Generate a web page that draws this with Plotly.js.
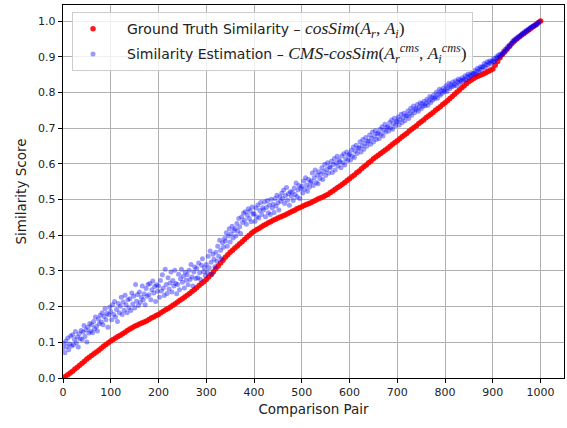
<!DOCTYPE html>
<html>
<head>
<meta charset="utf-8">
<script src="https://cdn.plot.ly/plotly-3.0.1.min.js"></script>
<style>html,body{margin:0;padding:0;background:#fff;}#chart{width:567px;height:428px;}</style>
</head>
<body>
<div id="chart"></div>
<script>
// Ground truth similarity, read every 5 comparison pairs (0..1000)
const truthStep = 5;
const truthSim = [
0.000,0.004,0.009,0.014,0.019,0.025,0.030,0.036,0.041,0.047,
0.053,0.058,0.063,0.068,0.073,0.078,0.083,0.089,0.094,0.099,
0.104,0.108,0.112,0.116,0.120,0.124,0.128,0.133,0.137,0.141,
0.145,0.148,0.151,0.154,0.157,0.160,0.164,0.168,0.171,0.175,
0.178,0.183,0.187,0.191,0.195,0.199,0.204,0.208,0.213,0.218,
0.222,0.227,0.232,0.237,0.242,0.247,0.253,0.259,0.265,0.270,
0.276,0.283,0.290,0.298,0.306,0.314,0.322,0.330,0.338,0.345,
0.352,0.358,0.364,0.370,0.376,0.382,0.388,0.394,0.400,0.406,
0.411,0.415,0.419,0.423,0.427,0.431,0.435,0.438,0.442,0.445,
0.448,0.451,0.454,0.457,0.460,0.464,0.467,0.470,0.474,0.477,
0.480,0.483,0.486,0.489,0.492,0.495,0.499,0.502,0.505,0.508,
0.511,0.515,0.520,0.524,0.529,0.534,0.538,0.543,0.548,0.553,
0.558,0.564,0.569,0.575,0.580,0.586,0.592,0.597,0.603,0.608,
0.614,0.619,0.624,0.629,0.634,0.639,0.644,0.649,0.655,0.660,
0.665,0.670,0.676,0.681,0.686,0.692,0.697,0.702,0.707,0.713,
0.718,0.723,0.729,0.734,0.739,0.744,0.750,0.755,0.760,0.766,
0.771,0.777,0.783,0.789,0.795,0.801,0.807,0.813,0.819,0.825,
0.831,0.835,0.839,0.843,0.846,0.849,0.852,0.855,0.859,0.862,
0.866,0.876,0.887,0.897,0.906,0.914,0.922,0.930,0.937,0.944,
0.950,0.955,0.960,0.965,0.970,0.975,0.980,0.985,0.990,0.995,
1.000
];

// CMS similarity estimation, read every 2 comparison pairs (0..998)
const estStep = 2;
const estSim = [
0.083,0.097,0.071,0.104,0.088,0.112,0.079,0.095,0.118,0.090,
0.121,0.093,0.108,0.130,0.099,0.115,0.087,0.124,0.110,0.133,
0.108,0.129,0.147,0.116,0.135,0.101,0.142,0.126,0.153,0.131,
0.149,0.127,0.158,0.138,0.171,0.144,0.132,0.165,0.152,0.176,
0.157,0.183,0.149,0.172,0.194,0.163,0.181,0.142,0.177,0.199,
0.186,0.163,0.205,0.178,0.214,0.171,0.192,0.158,0.209,0.183,
0.201,0.226,0.178,0.213,0.190,0.232,0.205,0.183,0.219,0.197,
0.222,0.189,0.238,0.207,0.229,0.196,0.262,0.215,0.234,0.203,
0.241,0.212,0.226,0.258,0.219,0.236,0.205,0.251,0.229,0.262,
0.233,0.265,0.219,0.247,0.272,0.238,0.256,0.214,0.261,0.243,
0.258,0.226,0.273,0.244,0.289,0.252,0.231,0.305,0.262,0.237,
0.281,0.249,0.266,0.297,0.241,0.273,0.258,0.302,0.265,0.236,
0.262,0.291,0.247,0.278,0.305,0.268,0.285,0.252,0.296,0.274,
0.289,0.261,0.302,0.276,0.318,0.283,0.258,0.297,0.311,0.279,
0.307,0.281,0.322,0.295,0.276,0.316,0.334,0.298,0.309,0.287,
0.318,0.296,0.341,0.309,0.356,0.324,0.291,0.347,0.333,0.312,
0.352,0.327,0.369,0.341,0.386,0.358,0.334,0.379,0.366,0.391,
0.384,0.407,0.369,0.398,0.418,0.381,0.404,0.425,0.392,0.413,
0.419,0.398,0.433,0.412,0.447,0.424,0.405,0.451,0.436,0.462,
0.443,0.466,0.431,0.456,0.474,0.447,0.468,0.438,0.479,0.459,
0.461,0.439,0.476,0.452,0.485,0.448,0.469,0.492,0.458,0.477,
0.471,0.493,0.452,0.478,0.497,0.463,0.485,0.458,0.501,0.476,
0.487,0.464,0.503,0.482,0.512,0.491,0.471,0.508,0.495,0.518,
0.503,0.527,0.489,0.511,0.534,0.498,0.516,0.484,0.522,0.509,
0.521,0.497,0.532,0.514,0.546,0.508,0.527,0.539,0.503,0.531,
0.537,0.518,0.552,0.529,0.561,0.541,0.523,0.556,0.535,0.548,
0.552,0.574,0.539,0.561,0.583,0.548,0.569,0.544,0.578,0.559,
0.571,0.589,0.556,0.578,0.598,0.567,0.584,0.603,0.574,0.592,
0.589,0.607,0.576,0.598,0.615,0.583,0.602,0.621,0.594,0.611,
0.606,0.589,0.622,0.603,0.628,0.597,0.614,0.633,0.609,0.624,
0.627,0.611,0.638,0.622,0.647,0.618,0.635,0.652,0.629,0.643,
0.645,0.662,0.633,0.651,0.668,0.641,0.657,0.674,0.649,0.663,
0.664,0.681,0.655,0.672,0.689,0.661,0.677,0.693,0.668,0.684,
0.686,0.671,0.697,0.683,0.704,0.678,0.695,0.711,0.689,0.702,
0.704,0.692,0.716,0.701,0.723,0.697,0.712,0.728,0.707,0.719,
0.718,0.731,0.709,0.724,0.739,0.716,0.729,0.742,0.721,0.735,
0.734,0.748,0.727,0.741,0.756,0.736,0.749,0.762,0.743,0.755,
0.752,0.766,0.747,0.759,0.771,0.754,0.768,0.761,0.775,0.763,
0.769,0.781,0.764,0.776,0.789,0.772,0.785,0.779,0.793,0.783,
0.788,0.801,0.784,0.796,0.809,0.792,0.805,0.798,0.812,0.803,
0.807,0.819,0.803,0.814,0.826,0.811,0.822,0.816,0.829,0.818,
0.823,0.833,0.819,0.829,0.838,0.826,0.835,0.831,0.841,0.834,
0.838,0.847,0.835,0.844,0.852,0.841,0.849,0.846,0.855,0.851,
0.853,0.862,0.851,0.859,0.868,0.857,0.866,0.872,0.863,0.871,
0.873,0.881,0.869,0.878,0.886,0.876,0.884,0.889,0.881,0.887,
0.888,0.895,0.886,0.893,0.901,0.897,0.905,0.899,0.908,0.904,
0.909,0.916,0.912,0.921,0.918,0.927,0.924,0.932,0.929,0.936,
0.939,0.945,0.942,0.949,0.947,0.953,0.951,0.957,0.955,0.961,
0.962,0.966,0.964,0.970,0.968,0.974,0.972,0.977,0.976,0.981,
0.982,0.985,0.984,0.988,0.987,0.991,0.990,0.994,0.996,0.999
];

const xTicks = [0,100,200,300,400,500,600,700,800,900,1000];
const yTicks = [0.0,0.1,0.2,0.3,0.4,0.5,0.6,0.7,0.8,0.9,1.0];
const xTitle = 'Comparison Pair';
const yTitle = 'Similarity Score';
const mathStyle = "font-family:'Liberation Serif',serif;font-size:17.5px";
const truthName = '\u2002\u2002Ground Truth Similarity \u2013 <span style="' + mathStyle + '"><i>cosSim</i>(<i>A</i><sub><i>r</i></sub>, <i>A</i><sub><i>i</i></sub>)</span>';
const estName = '\u2002\u2002Similarity Estimation \u2013 <span style="' + mathStyle + '"><i>CMS</i>-<i>cosSim</i>(<i>A</i><sub><i>r</i></sub><sup><i>cms</i></sup>, <i>A</i><sub><i>i</i></sub><sup><i>cms</i></sup>)</span>';

const truthX = truthSim.map((_, k) => k * truthStep);
const estX = estSim.map((_, k) => k * estStep);

const baseFont = 'DejaVu Sans, sans-serif';

const traces = [
  {
    type: 'scatter', mode: 'markers', x: truthX, y: truthSim, name: truthName,
    legendgroup: 'truth',
    marker: {color: 'rgba(255,0,0,0.9)', size: 5.5, line: {width: 0}}
  },
  {
    type: 'scatter', mode: 'markers', x: estX, y: estSim, name: estName,
    legendgroup: 'est',
    marker: {color: 'rgba(0,0,255,0.4)', size: 5, line: {width: 0}}
  }
];

const axisCommon = {
  showgrid: true, gridcolor: '#b0b0b0', gridwidth: 1,
  showline: true, mirror: true, linecolor: '#000', linewidth: 1.2,
  ticks: 'outside', ticklen: 4, tickwidth: 1, tickcolor: '#000',
  zeroline: false, tickfont: {family: baseFont, size: 11, color: '#222'}
};

const layout = {
  width: 567, height: 428,
  margin: {l: 63, r: 3, t: 5, b: 50},
  paper_bgcolor: '#fff', plot_bgcolor: '#fff',
  font: {family: baseFont, color: '#222'},
  showlegend: true,
  legend: {
    x: 0.018, y: 0.981, xanchor: 'left', yanchor: 'top',
    bgcolor: 'rgba(255,255,255,0.8)', bordercolor: '#cccccc', borderwidth: 1,
    font: {family: baseFont, size: 14, color: '#222'},
    tracegroupgap: 4
  },
  xaxis: Object.assign({}, axisCommon, {
    range: [0, 1049], tickmode: 'array', tickvals: xTicks,
    title: {text: xTitle, font: {family: baseFont, size: 13.5, color: '#222'}, standoff: 6}
  }),
  yaxis: Object.assign({}, axisCommon, {
    range: [0, 1.045], tickmode: 'array', tickvals: yTicks,
    ticktext: yTicks.map(v => v.toFixed(1)),
    title: {text: yTitle, font: {family: baseFont, size: 13.5, color: '#222'}, standoff: 8}
  })
};

Plotly.newPlot('chart', traces, layout, {staticPlot: true, displayModeBar: false});
</script>
</body>
</html>
